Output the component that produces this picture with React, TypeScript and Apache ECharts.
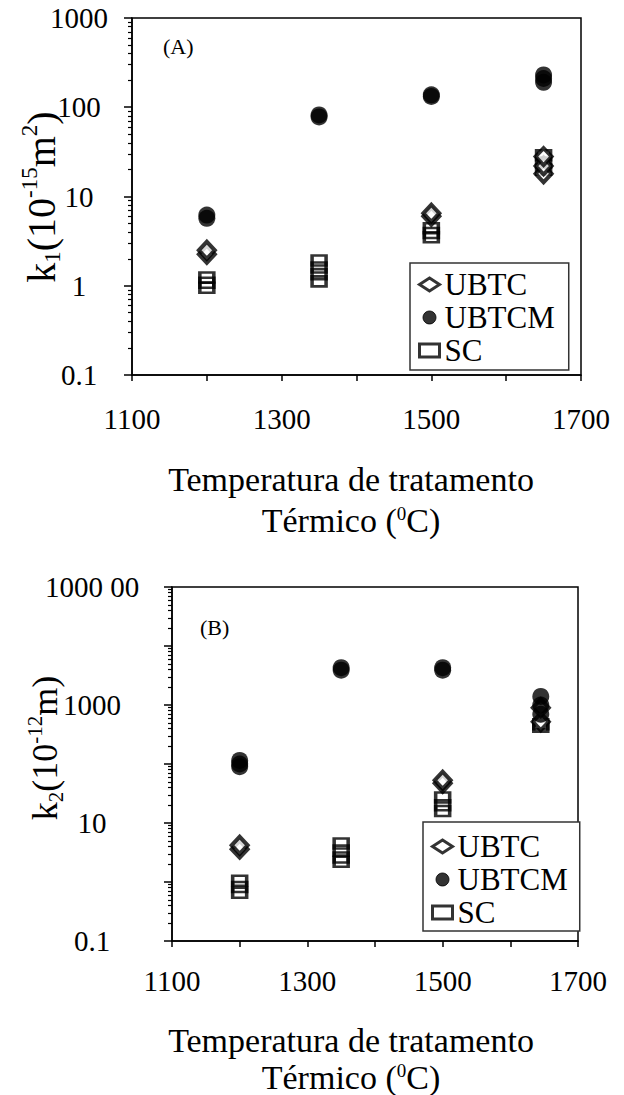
import React, { useEffect, useRef } from "react";
import * as echarts from "echarts";

// ---------- data ----------
const xTickLabels = [1100, 1300, 1500, 1700];

// Panel A : k1 (10^-15 m^2)
const ubtcA = [[1200, 2.25], [1200, 2.5], [1500, 6.0], [1500, 6.5], [1650, 18], [1650, 22], [1650, 28]];
const ubtcmA = [[1200, 5.7], [1200, 6.2], [1350, 78], [1350, 82], [1500, 132], [1500, 138], [1650, 190], [1650, 210], [1650, 230]];
const scA = [[1200, 0.95], [1200, 1.08], [1200, 1.24], [1350, 1.12], [1350, 1.35], [1350, 1.6], [1350, 1.92], [1500, 3.5], [1500, 3.9], [1500, 4.4], [1650, 20], [1650, 24], [1650, 29]];
const yLabelsA = [0.1, 1, 10, 100, 1000];

// Panel B : k2 (10^-12 m)
const ubtcB = [[1200, 3.6], [1200, 4.2], [1500, 47], [1500, 53], [1645, 520], [1645, 900]];
const ubtcmB = [[1200, 90], [1200, 100], [1200, 115], [1350, 3900], [1350, 4300], [1500, 3900], [1500, 4300], [1645, 700], [1645, 1000], [1645, 1400]];
const scB = [[1200, 0.66], [1200, 0.82], [1200, 1.05], [1350, 2.2], [1350, 2.6], [1350, 3.4], [1350, 4.5], [1500, 16], [1500, 20], [1500, 27], [1645, 430], [1645, 470]];
const yLabelsB = [0.1, 10, 1000, 100000];
const yLabelTextB = ["0.1", "10", "1000", "1000 00"];

const FONT = "Liberation Serif";
const INK = "#000";

function decades(lo: number, hi: number) {
  const out: number[] = [];
  for (let e = Math.round(Math.log10(lo)); e <= Math.round(Math.log10(hi)); e++) out.push(Number(Math.pow(10, e).toPrecision(6)));
  return out;
}
function minors(lo: number, hi: number) {
  const out: number[] = [];
  for (let e = Math.round(Math.log10(lo)); e < Math.round(Math.log10(hi)); e++) {
    for (let k = 2; k <= 9; k++) out.push(Number((k * Math.pow(10, e)).toPrecision(6)));
  }
  return out;
}

export default function App() {
  const ref = useRef<HTMLDivElement>(null);
  useEffect(() => {
    if (!ref.current) return;
    const chart = echarts.init(ref.current, null, { renderer: "svg" });

    const xAxisBase = (gridIndex: number, margin: number) => ({
      gridIndex,
      type: "value",
      min: 1100,
      max: 1700,
      interval: 100,
      axisLine: { show: true, onZero: false, lineStyle: { color: INK, width: 1.5 } },
      axisTick: { show: true, inside: false, length: 6, lineStyle: { color: INK, width: 1.5 } },
      axisLabel: {
        show: true,
        margin,
        fontSize: 29,
        fontFamily: FONT,
        color: INK,
        formatter: (v: number) => (xTickLabels.indexOf(v) >= 0 ? String(v) : ""),
      },
      splitLine: { show: false },
    });

    const yMain = (gridIndex: number, max: number, labels: number[], fmt: (v: number) => string, margin: number) => ({
      gridIndex,
      type: "log",
      logBase: 10,
      min: 0.1,
      max,
      position: "left",
      axisLine: { show: true, onZero: false, lineStyle: { color: INK, width: 1.5 } },
      axisTick: { show: true, inside: false, length: 8, customValues: decades(0.1, max), lineStyle: { color: INK, width: 1.5 } },
      axisLabel: {
        show: true,
        customValues: labels,
        margin,
        align: "center",
        fontSize: 29,
        fontFamily: FONT,
        color: INK,
        formatter: fmt,
      },
      splitLine: { show: false },
    });
    const yMinor = (gridIndex: number, max: number) => ({
      gridIndex,
      type: "log",
      logBase: 10,
      min: 0.1,
      max,
      position: "left",
      axisLine: { show: false },
      axisTick: { show: true, inside: false, length: 4, customValues: minors(0.1, max), lineStyle: { color: INK, width: 1.2 } },
      axisLabel: { show: false },
      splitLine: { show: false },
    });

    const fmtA = (v: number) => (v < 1 ? "0.1" : String(Math.round(v)));
    const fmtB = (v: number) => {
      let best = 0;
      yLabelsB.forEach((l, i) => {
        if (Math.abs(Math.log10(l) - Math.log10(v)) < Math.abs(Math.log10(yLabelsB[best]) - Math.log10(v))) best = i;
      });
      return yLabelTextB[best];
    };

    const seriesFor = (xi: number, yi: number, sc: number[][], ubtc: number[][], ubtcm: number[][]) => [
      {
        type: "scatter",
        name: "SC",
        xAxisIndex: xi,
        yAxisIndex: yi,
        data: sc,
        symbol: "rect",
        symbolSize: [14, 10],
        itemStyle: { color: "rgba(255,255,255,0)", borderColor: INK, borderWidth: 3 },
      },
      {
        type: "scatter",
        name: "UBTC",
        xAxisIndex: xi,
        yAxisIndex: yi,
        data: ubtc,
        symbol: "diamond",
        symbolSize: [16, 17],
        itemStyle: { color: "#fff", borderColor: INK, borderWidth: 4 },
      },
      {
        type: "scatter",
        name: "UBTCM",
        xAxisIndex: xi,
        yAxisIndex: yi,
        data: ubtcm,
        symbol: "circle",
        symbolSize: 17,
        itemStyle: { color: INK, borderColor: INK, borderWidth: 0 },
      },
    ];

    const legendBase = {
      orient: "vertical",
      itemWidth: 20,
      itemHeight: 13,
      selectedMode: false,
      borderColor: "#333",
      borderWidth: 1.5,
      backgroundColor: "#fff",
      itemStyle: { borderWidth: 3, borderColor: INK },
      textStyle: { fontSize: 31, fontFamily: FONT, color: INK, lineHeight: 31 },
    };
    const legendData = [
      { name: "UBTC", itemStyle: { color: "#fff", borderColor: INK, borderWidth: 3 } },
      { name: "UBTCM", itemStyle: { color: INK, borderColor: INK, borderWidth: 1 } },
      { name: "SC", itemStyle: { color: "#fff", borderColor: INK, borderWidth: 3 }, icon: "rect" },
    ];

    const titleY = (x: number, y: number, sub: string, exp: string, unitSup: string, fs: number) => ({
      type: "text",
      x,
      y,
      rotation: Math.PI / 2,
      style: {
        text:
          "{m|k}{s|" + sub + "}{m|(10}{u|" + exp + "}{m|m}" + (unitSup ? "{u|" + unitSup + "}" : "") + "{m|)}",
        align: "center",
        verticalAlign: "middle",
        fill: INK,
        fontFamily: FONT,
        rich: {
          m: { fontSize: fs, fontFamily: FONT, fill: INK, lineHeight: fs + 6 },
          s: { fontSize: Math.round(fs * 0.58), fontFamily: FONT, fill: INK, lineHeight: 22, verticalAlign: "bottom" },
          u: { fontSize: Math.round(fs * 0.58), fontFamily: FONT, fill: INK, lineHeight: 24, verticalAlign: "top" },
        },
      },
    });

    const titleX = (y1: number, y2: number) => [
      {
        type: "text",
        x: 351,
        y: y1,
        style: { text: "Temperatura de tratamento", fontSize: 34, fontFamily: FONT, fill: INK, align: "center", verticalAlign: "middle" },
      },
      {
        type: "text",
        x: 351,
        y: y2,
        style: {
          text: "{m|Térmico (}{u|0}{m|C)}",
          align: "center",
          verticalAlign: "middle",
          fill: INK,
          fontFamily: FONT,
          rich: {
            m: { fontSize: 34, fontFamily: FONT, fill: INK, lineHeight: 32 },
            u: { fontSize: 19, fontFamily: FONT, fill: INK, lineHeight: 18, verticalAlign: "top" },
          },
        },
      },
    ];

    chart.setOption({
      animation: false,
      backgroundColor: "#fff",
      grid: [
        { left: 132, top: 18, width: 449, height: 357, show: true, borderColor: INK, borderWidth: 1.5, containLabel: false },
        { left: 172, top: 587, width: 406, height: 354, show: true, borderColor: INK, borderWidth: 1.5, containLabel: false },
      ],
      xAxis: [xAxisBase(0, 29), xAxisBase(1, 25)],
      yAxis: [
        yMain(0, 1000, yLabelsA, fmtA, 53),
        yMinor(0, 1000),
        yMain(1, 100000, yLabelsB, fmtB, 80),
        yMinor(1, 100000),
      ],
      legend: [
        { ...legendBase, data: legendData, left: 410, top: 263, padding: [6, 14, 4, 8], itemGap: 2 },
        { ...legendBase, data: legendData, left: 423, top: 822, padding: [9, 12, 3, 8], itemGap: 2 },
      ],
      graphic: [
        { type: "text", x: 163, y: 35, style: { text: "(A)", fontSize: 22, fontFamily: FONT, fill: INK } },
        { type: "text", x: 200, y: 616, style: { text: "(B)", fontSize: 22, fontFamily: FONT, fill: INK } },
        titleY(41, 197, "1", "-15", "2", 40),
        titleY(45, 748, "2", "-12", "", 36),
        ...titleX(479, 520),
        ...titleX(1040, 1077),
      ],
      series: [...seriesFor(0, 0, scA, ubtcA, ubtcmA), ...seriesFor(1, 2, scB, ubtcB, ubtcmB)],
    });
    return () => chart.dispose();
  }, []);
  return <div ref={ref} style={{ position: "absolute", left: 0, top: 0, width: 624, height: 1095 }} />;
}
